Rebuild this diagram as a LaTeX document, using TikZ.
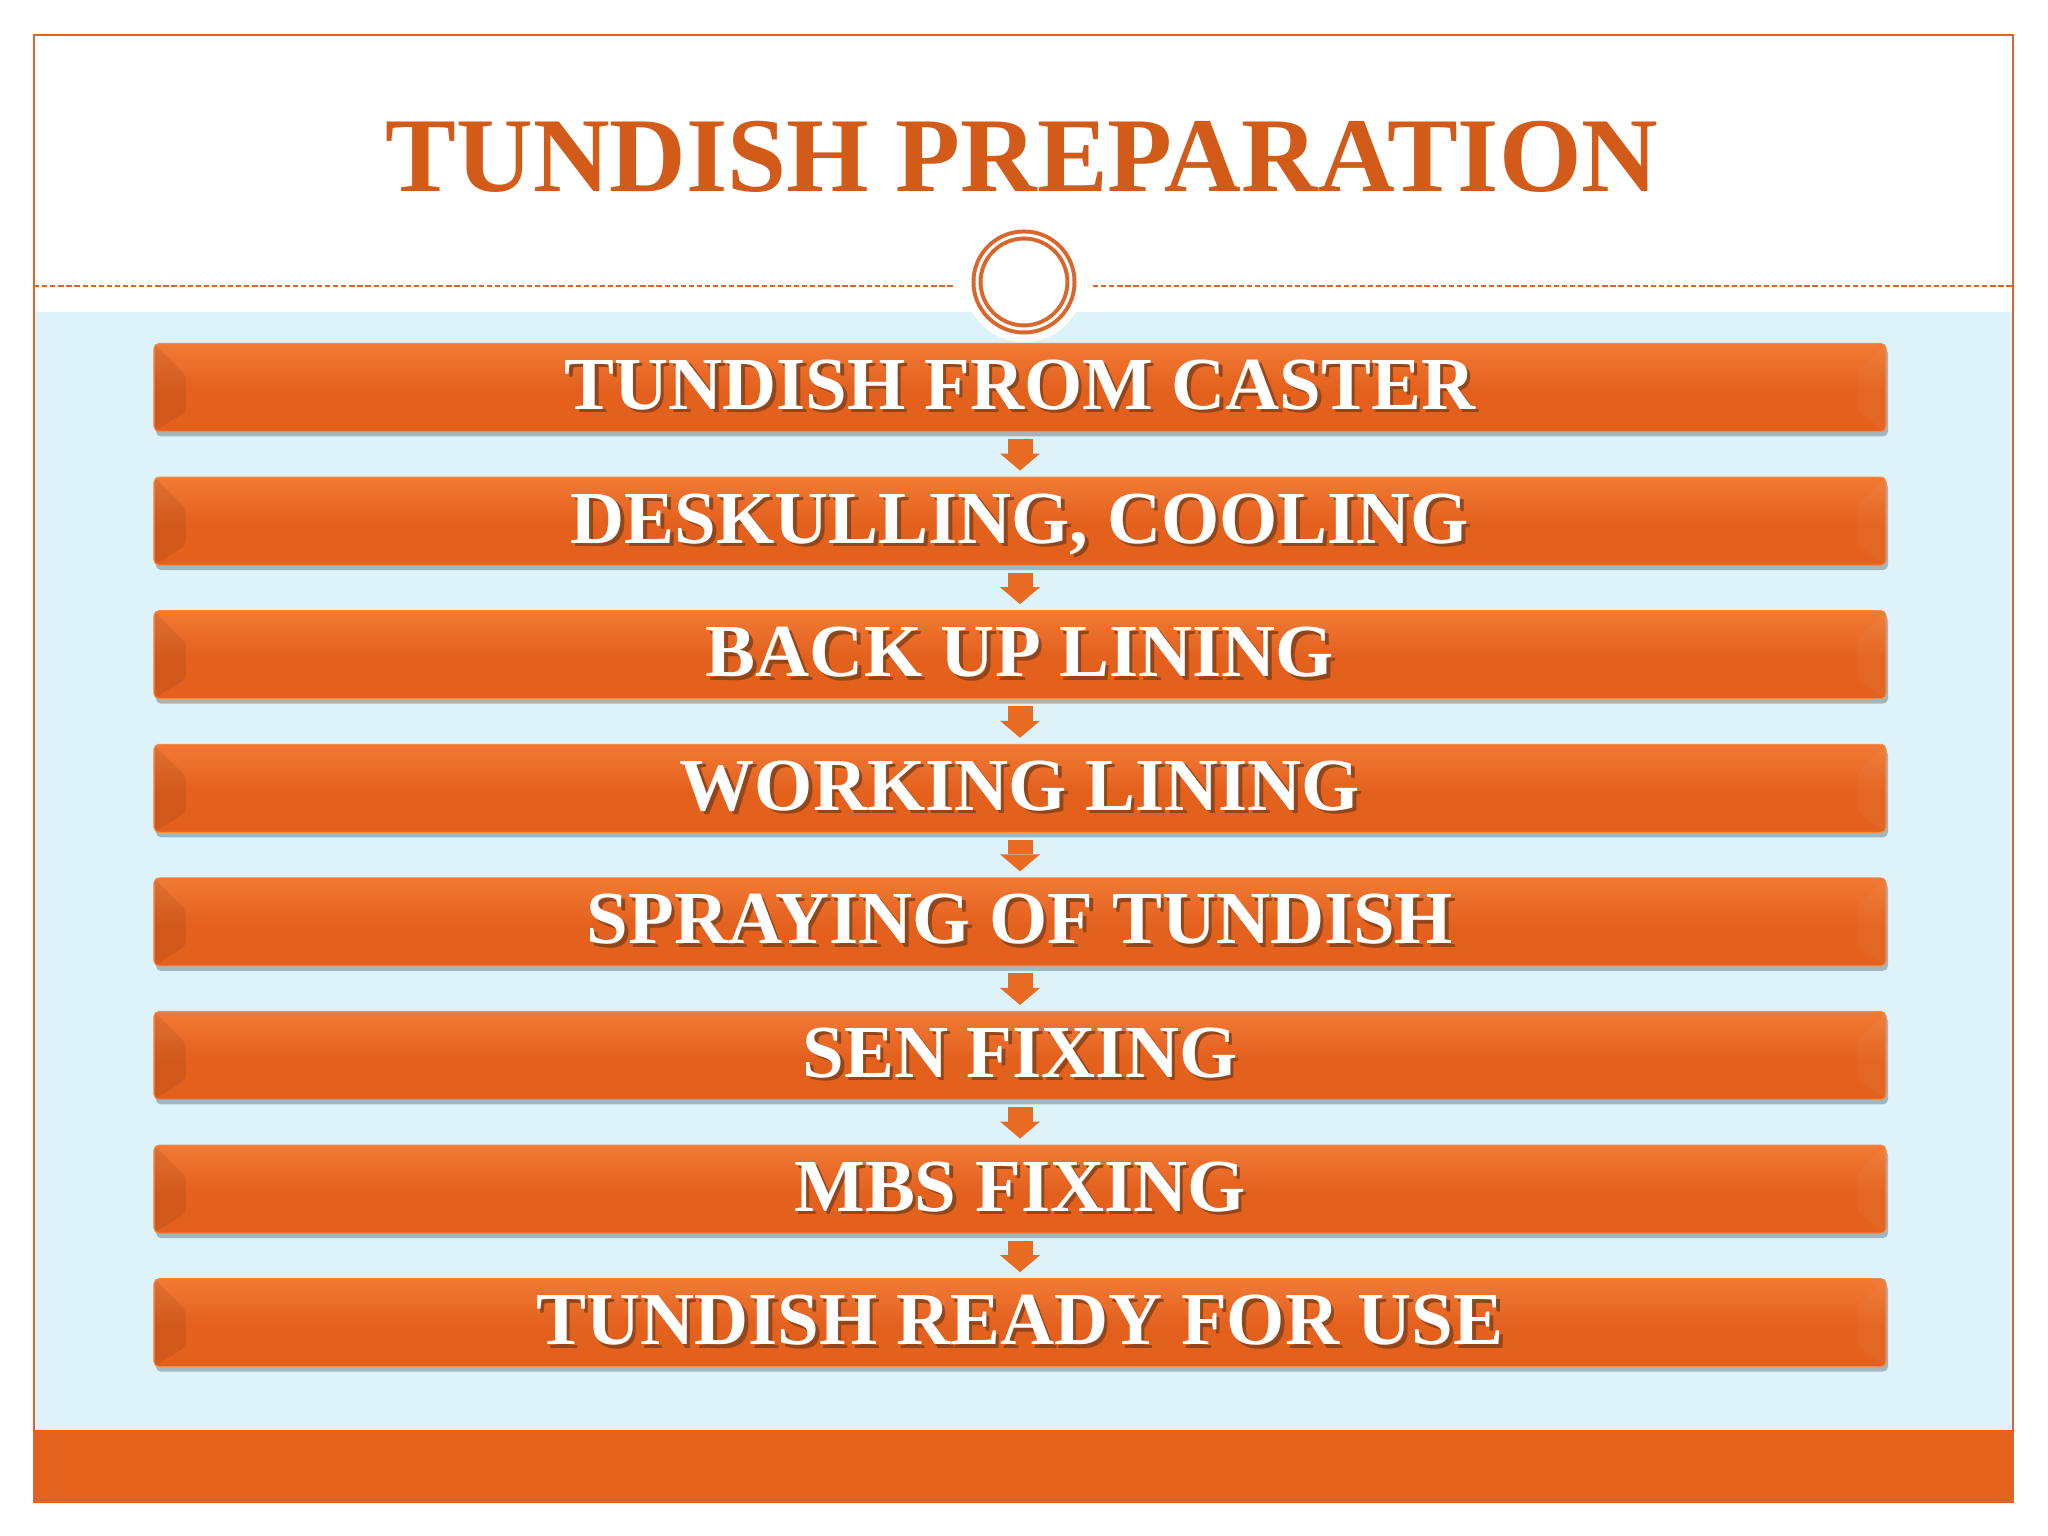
\documentclass[tikz,border=0pt]{standalone}
\usepackage{fontspec}
\setmainfont{Liberation Serif}
\usepackage{tikz}
\usetikzlibrary{arrows.meta,shadows}

\definecolor{frameorange}{HTML}{D9662A}
\definecolor{titleorange}{HTML}{D25B1A}
\definecolor{bgblue}{HTML}{DEF2F9}
\definecolor{bandorange}{HTML}{E5621D}
\definecolor{bartop}{HTML}{FBA55A}
\definecolor{barmid}{HTML}{F27B36}
\definecolor{barbot}{HTML}{E3601D}
\definecolor{baredge}{HTML}{F38A45}
\definecolor{barshadow}{HTML}{92A9B2}
\definecolor{textshade}{HTML}{94461B}
\definecolor{arroworange}{HTML}{E96A22}

\pgfdeclareverticalshading{barshade}{100bp}{color(0bp)=(baredge); color(3bp)=(barbot); color(48bp)=(barbot); color(76bp)=(barmid); color(89bp)=(barmid); color(96bp)=(bartop); color(100bp)=(bartop)}

\newcommand{\barlabel}[1]{\rlap{\color{textshade}\kern1pt\raisebox{-1pt}{#1}}#1}

\begin{document}
\begin{tikzpicture}[>=latex,
	stepbar/.style={rectangle, rounded corners=0.05cm, minimum width=17.32cm, minimum height=0.88cm, inner sep=0pt,
		shade, shading=barshade, draw=baredge, line width=0.3pt,
		drop shadow={shadow xshift=0.02cm, shadow yshift=-0.05cm, fill=barshadow, opacity=0.8},
		text=white, font=\fontsize{21.3}{21.3}\selectfont\bfseries, text height=12.5pt, text depth=0pt,
		path picture={
			\fill[black,opacity=0.07] (path picture bounding box.north west) -- ++(0.32,-0.32) -- ([shift={(0.32,0.2)}]path picture bounding box.south west) -- (path picture bounding box.south west) -- cycle;
			\fill[white,opacity=0.04] (path picture bounding box.north east) -- ++(-0.28,-0.28) -- ([shift={(-0.28,0.2)}]path picture bounding box.south east) -- (path picture bounding box.south east) -- cycle;
		}},
	flow/.style={arroworange, line width=0.25cm, -{Triangle[width=0.40cm,length=0.17cm,line width=0pt]}, shorten <=0.07cm, shorten >=0.06cm}]
%	\draw [help lines] (0,0) grid (20,15);
	\fill[white] (0,0) rectangle (20.48,15.36);
	\useasboundingbox (0,0) rectangle (20.48,15.36);
	%Sfondo
	\fill[bgblue] (0.34,1.06) rectangle (20.13,12.24);
	\fill[bandorange] (0.34,0.34) rectangle (20.13,1.06);
	%Cornice
	\draw[frameorange, line width=0.6pt] (0.34,0.34) rectangle (20.13,15.01);
	%Titolo
	\node[titleorange, font=\fontsize{30.2}{30.2}\selectfont\bfseries, text height=20pt, text depth=0pt] (title) at (10.22,13.80) {TUNDISH PREPARATION};
	%Linea
	\draw[frameorange, line width=0.45pt, dash pattern=on 1.5pt off 0.8pt] (0.34,12.50) -- (9.55,12.50);
	\draw[frameorange, line width=0.45pt, dash pattern=on 1.5pt off 0.8pt] (10.93,12.50) -- (20.13,12.50);
	%Anello
	\fill[white] (10.24,12.54) circle (0.60);
	\node[circle, draw=frameorange, double=white, line width=0.04cm, double distance=0.03cm, minimum size=0.94cm, inner sep=0pt] (ring) at (10.24,12.54) {};
	%Fasi
	\foreach \txt [count=\i] in {TUNDISH FROM CASTER, {DESKULLING, COOLING}, BACK UP LINING, WORKING LINING, SPRAYING OF TUNDISH, SEN FIXING, MBS FIXING, TUNDISH READY FOR USE}
		\node[stepbar] (bar\i) at (10.20,{11.485-1.336*(\i-1)}) {\barlabel{\txt}};
	%Frecce
	\foreach \i [evaluate=\i as \j using int(\i+1)] in {1,...,7}
		\draw[flow] (bar\i) -- (bar\j);
\end{tikzpicture}
\end{document}
